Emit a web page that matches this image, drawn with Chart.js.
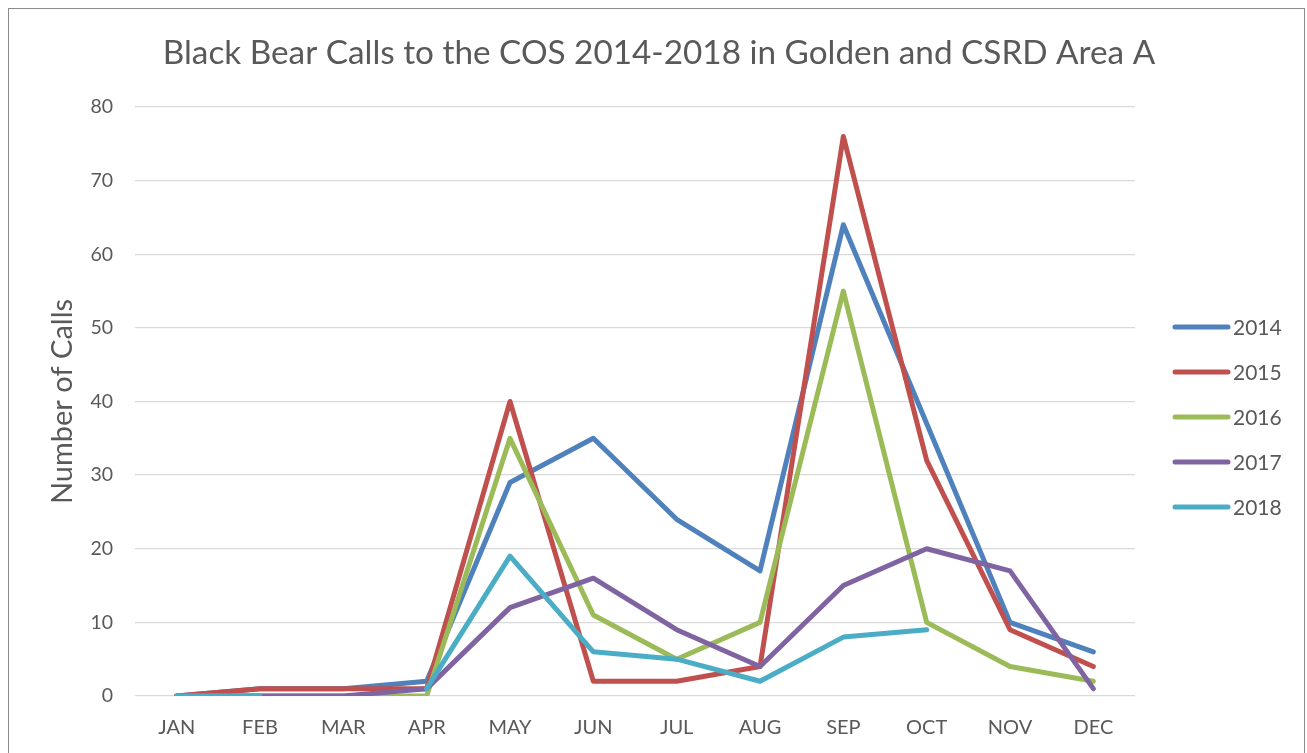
<!DOCTYPE html>
<html>
<head>
<meta charset="utf-8">
<script src="https://cdn.jsdelivr.net/npm/chart.js@4.4.1/dist/chart.umd.min.js"></script>
<style>
  html, body { margin: 0; padding: 0; background: #ffffff; }
  #wrap { position: absolute; left: 0; top: 0; width: 1307px; height: 753px; }
  #frame { position: absolute; left: 8px; top: 8px; width: 1297px; height: 760px; border: 1px solid #8c8c8c; box-sizing: border-box; }
</style>
</head>
<body>
<div id="wrap">
  <div id="frame"></div>
  <canvas id="c" width="1307" height="753"></canvas>
</div>
<script>
const months = ["JAN","FEB","MAR","APR","MAY","JUN","JUL","AUG","SEP","OCT","NOV","DEC"];
const seriesNames = ["2014","2015","2016","2017","2018"];
const v2014 = [0,1,1,2,29,35,24,17,64,37,10,6];
const v2015 = [0,1,1,1,40,2,2,4,76,32,9,4];
const v2016 = [0,0,0,0,35,11,5,10,55,10,4,2];
const v2017 = [0,0,0,1,12,16,9,4,15,20,17,1];
const v2018 = [0,0,null,1,19,6,5,2,8,9,null,null];
const yTicks = [0,10,20,30,40,50,60,70,80];
const titleText = "Black Bear Calls to the COS 2014-2018 in Golden and CSRD Area A";
const yTitle = "Number of Calls";

const colors = ["#4F81BD","#C0504D","#9BBB59","#8064A2","#4BACC6"];
const FONT = "Lato, 'Open Sans', sans-serif";
const TXT = "#595959";

const allValues = [v2014, v2015, v2016, v2017, v2018];
const datasets = allValues.map((vals, i) => ({
  label: seriesNames[i],
  data: vals,
  borderColor: colors[i],
  backgroundColor: colors[i],
  borderWidth: 5,
  pointRadius: 0,
  pointHoverRadius: 0,
  tension: 0,
  spanGaps: false,
  borderCapStyle: 'round',
  borderJoinStyle: 'round',
  order: 10 - i
}));

const titlePlugin = {
  id: 'customTitle',
  afterDraw(chart) {
    const ctx = chart.ctx;
    ctx.save();
    ctx.font = "33.3px " + FONT;
    ctx.fillStyle = TXT;
    ctx.textAlign = 'center';
    ctx.textBaseline = 'middle';
    ctx.fillText(titleText, 659, 53);
    ctx.restore();
  }
};

const legendPlugin = {
  id: 'customLegend',
  afterDraw(chart) {
    const ctx = chart.ctx;
    ctx.save();
    ctx.font = "21px " + FONT;
    ctx.textBaseline = 'middle';
    ctx.textAlign = 'left';
    chart.data.datasets.forEach((ds, i) => {
      const y = 327 + i * 45;
      ctx.strokeStyle = ds.borderColor;
      ctx.lineWidth = 5;
      ctx.lineCap = 'round';
      ctx.beginPath();
      ctx.moveTo(1175, y);
      ctx.lineTo(1228, y);
      ctx.stroke();
      ctx.fillStyle = TXT;
      ctx.fillText(ds.label, 1233, y + 1);
    });
    ctx.restore();
  }
};

new Chart(document.getElementById('c'), {
  type: 'line',
  data: { labels: months, datasets: datasets },
  options: {
    responsive: false,
    animation: false,
    events: [],
    layout: { padding: { left: 8, right: 172, top: 107, bottom: 0 } },
    plugins: {
      legend: { display: false },
      title: { display: false },
      tooltip: { enabled: false }
    },
    scales: {
      x: {
        offset: true,
        grid: { display: false, drawTicks: false },
        border: { display: false },
        ticks: { color: TXT, font: { family: FONT, size: 20 }, padding: 20, maxRotation: 0, autoSkip: false },
        afterFit(scale) { scale.height = 57; }
      },
      y: {
        min: 0, max: 80,
        afterBuildTicks(scale) { scale.ticks = yTicks.map(v => ({ value: v })); },
        grid: { color: "#D9D9D9", lineWidth: 1.3, drawTicks: false },
        border: { display: false },
        ticks: { color: TXT, font: { family: FONT, size: 19.5 }, padding: 22 },
        title: { display: true, text: yTitle, color: TXT, font: { family: FONT, size: 29 }, padding: { top: 37, bottom: 0 } },
        afterFit(scale) { scale.width = 127; }
      }
    }
  },
  plugins: [titlePlugin, legendPlugin]
});
</script>
</body>
</html>
